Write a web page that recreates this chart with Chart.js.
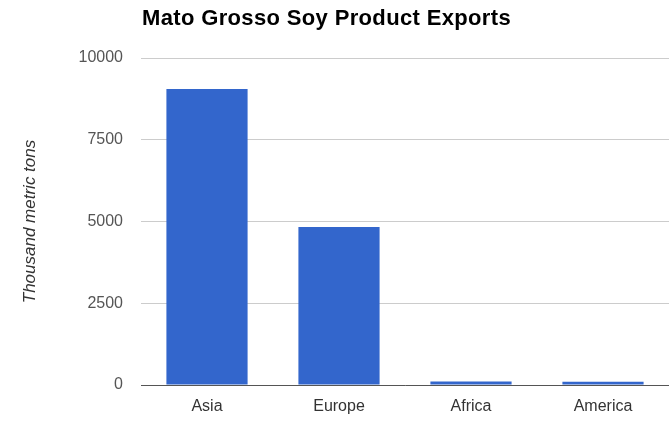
<!DOCTYPE html>
<html>
<head>
<meta charset="utf-8">
<script src="https://cdn.jsdelivr.net/npm/chart.js@4.4.0/dist/chart.umd.min.js"></script>
<style>
html,body{margin:0;padding:0;background:#fff;}
#wrap{width:669px;height:433px;position:relative;}
</style>
</head>
<body>
<div id="wrap"><canvas id="c" width="669" height="433"></canvas></div>
<script>
const chartTitle = "Mato Grosso Soy Product Exports";
const yAxisTitle = "Thousand metric tons";
const categories = ["Asia", "Europe", "Africa", "America"];
const exportValues = [9050, 4830, 110, 100];
const yTicks = [0, 2500, 5000, 7500, 10000];

const FONT = "'Liberation Sans', Arial, sans-serif";

const titlePlugin = {
  id: 'leftTitle',
  afterDraw(chart) {
    const ctx = chart.ctx;
    ctx.save();
    ctx.font = "bold 22px " + FONT;
    ctx.fillStyle = "#000";
    ctx.textAlign = "left";
    ctx.textBaseline = "alphabetic";
    if ('letterSpacing' in ctx) ctx.letterSpacing = "0.35px";
    ctx.fillText(chartTitle, 142, 25);
    ctx.restore();
  }
};

new Chart(document.getElementById('c'), {
  type: 'bar',
  data: {
    labels: categories,
    datasets: [{
      data: exportValues,
      backgroundColor: '#3366cc',
      borderWidth: 0,
      categoryPercentage: 1.0,
      barPercentage: 0.615
    }]
  },
  options: {
    responsive: false,
    animation: false,
    devicePixelRatio: 1,
    layout: { padding: { top: 58, right: 0, bottom: 0, left: 0 } },
    plugins: {
      legend: { display: false },
      title: { display: false },
      tooltip: { enabled: false }
    },
    scales: {
      x: {
        grid: { display: false, drawTicks: false },
        border: { display: true, color: '#555', width: 1 },
        ticks: { color: '#333', font: { family: FONT, size: 16 }, padding: 12, maxRotation: 0, autoSkip: false },
        afterFit(scale) { scale.height = 48; }
      },
      y: {
        min: 0,
        max: 10000,
        afterBuildTicks(scale) { scale.ticks = yTicks.map(v => ({ value: v })); },
        grid: { color: '#cccccc', drawTicks: false, lineWidth: 1 },
        border: { display: false },
        ticks: { color: '#555', font: { family: FONT, size: 16 }, padding: 18, callback: v => String(v) },
        title: {
          display: true,
          text: yAxisTitle,
          color: '#333',
          font: { family: FONT, size: 17, style: 'italic' },
          padding: { top: 20, bottom: 0 }
        },
        afterFit(scale) { scale.width = 141; }
      }
    }
  },
  plugins: [titlePlugin]
});
</script>
</body>
</html>
